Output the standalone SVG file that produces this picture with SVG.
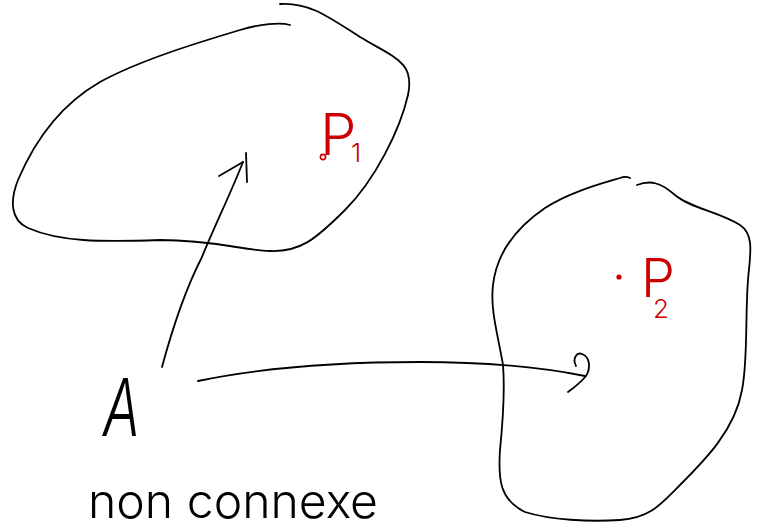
<svg xmlns="http://www.w3.org/2000/svg" width="766" height="531" viewBox="0 0 766 531">
<style>
.ink{fill:none;stroke:#000;stroke-width:1.8;stroke-linecap:round;stroke-linejoin:round}
.red{fill:#cc0000;font-family:Inter,"Open Sans","Liberation Sans",sans-serif;font-weight:300}
.blk{fill:#000;font-family:Inter,"Open Sans","Liberation Sans",sans-serif;font-weight:300}
</style>
<rect width="766" height="531" fill="#fff"/>
<g id="region1">
<path class="ink" d="M280,4 C310,2 330,18 360,37 C395,58 415,62 408,95 C400,130 375,180 345,210 C315,240 300,252 270,251 C240,250 215,240 160,240 C100,242 60,242 28,228 C10,220 10,200 18,180 C35,140 60,105 100,82 C140,60 200,42 240,30 C260,24 280,22 290,25"/>
<g id="P1">
<circle cx="323" cy="157" r="2.6" fill="none" stroke="#cc0000" stroke-width="1.6"/>
<text class="red" x="320" y="155" font-size="58">P<tspan x="351" y="162" font-size="26">1</tspan></text>
</g>
</g>
<g id="region2">
<path class="ink" d="M637,185 C650,180 660,182 675,195 C690,208 720,212 740,225 C755,235 750,255 748,280 C745,320 748,360 742,390 C735,430 705,460 680,485 C660,505 650,518 620,520 C590,522 550,520 525,512 C500,500 498,480 500,450 C503,420 505,390 503,365 C498,335 490,310 493,285 C497,250 520,225 545,208 C570,192 600,184 620,178 C625,176 628,177 630,178"/>
<g id="P2">
<circle cx="619" cy="277" r="2.6" fill="#cc0000"/>
<text class="red" x="641" y="297" font-size="54">P<tspan x="653" y="318" font-size="26">2</tspan></text>
</g>
</g>
<g id="pointA">
<text class="blk" x="103" y="436" font-size="80" font-style="italic" textLength="37" lengthAdjust="spacingAndGlyphs">A</text>
</g>
<g id="connectors">
<path class="ink" d="M162,367 C172,330 185,290 202,257 C215,225 230,195 243,162"/>
<path class="ink" d="M219,176 L243,162 M246,153 L247,182"/>
<path class="ink" d="M198,381 C260,368 340,362 420,362 C490,362 540,367 585,376"/>
<path class="ink" d="M576,366 C572,358 577,352 582,354 C590,357 591,368 586,376 C581,382 575,387 568,392"/>
</g>
<g id="caption">
<text class="blk" x="88" y="518" font-size="48" textLength="290" lengthAdjust="spacingAndGlyphs">non connexe</text>
</g>
</svg>
